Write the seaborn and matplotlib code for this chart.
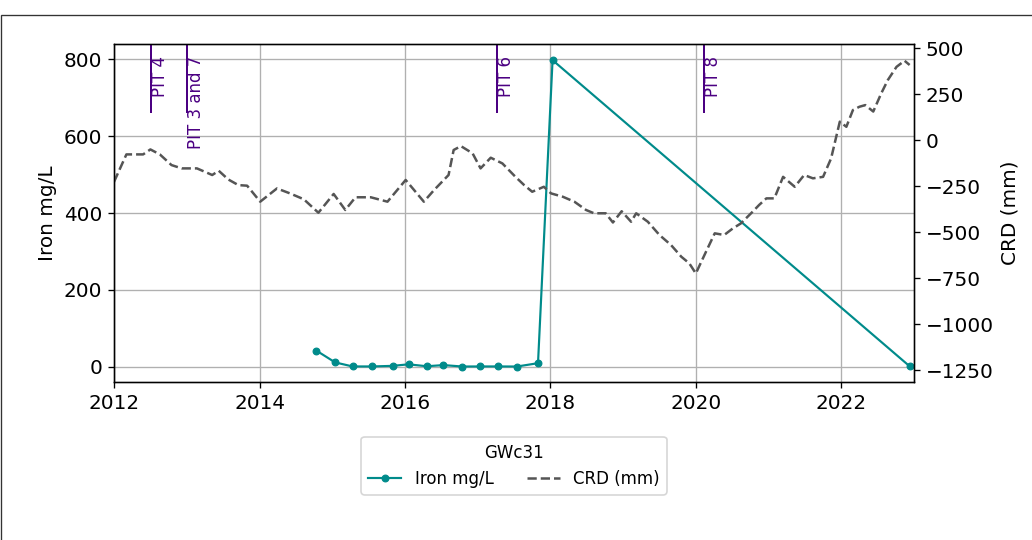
import pandas as pd
import matplotlib
matplotlib.use('Agg')
import matplotlib.pyplot as plt
import matplotlib.dates as mdates
from matplotlib.ticker import MultipleLocator
from matplotlib.patches import Rectangle
import seaborn as sns


# sample dates as decimal years
iron_years = [2014.78, 2015.04, 2015.28, 2015.55, 2015.83, 2016.05, 2016.30,
              2016.53, 2016.79, 2017.03, 2017.28, 2017.54, 2017.83, 2018.03,
              2022.94]
iron_values = [42, 11, 0.5, 0.5, 2, 6, 1, 4, 0.3, 0.5, 0.5, 0.3, 9, 798, 1]

crd_years = [2012.00, 2012.17, 2012.40, 2012.50, 2012.63, 2012.79, 2012.93,
             2013.14, 2013.35, 2013.44, 2013.57, 2013.71, 2013.83, 2014.01,
             2014.24, 2014.42, 2014.61, 2014.81, 2015.02, 2015.18, 2015.32,
             2015.53, 2015.76, 2016.01, 2016.26, 2016.40, 2016.60, 2016.67,
             2016.77, 2016.93, 2017.04, 2017.18, 2017.34, 2017.52, 2017.64,
             2017.75, 2017.91, 2018.01, 2018.17, 2018.33, 2018.49, 2018.60,
             2018.76, 2018.86, 2018.98, 2019.11, 2019.18, 2019.34, 2019.50,
             2019.66, 2019.80, 2019.91, 2020.00, 2020.14, 2020.26, 2020.39,
             2020.51, 2020.62, 2020.78, 2020.87, 2020.97, 2021.08, 2021.20,
             2021.36, 2021.49, 2021.61, 2021.75, 2021.86, 2021.98, 2022.07,
             2022.16, 2022.25, 2022.33, 2022.44, 2022.55, 2022.64, 2022.76,
             2022.87, 2022.94]
crd_values = [-227, -78, -78, -51, -78, -136, -154,
              -154, -190, -167, -214, -245, -248, -335,
              -263, -290, -322, -395, -293, -380, -311,
              -311, -335, -217, -335, -272, -190, -54,
              -33, -72, -154, -96, -127, -200, -245,
              -281, -254, -290, -308, -335, -380, -398,
              -398, -448, -387, -444, -398, -444, -516,
              -571, -634, -670, -725, -607, -507, -516,
              -480, -453, -390, -353, -317, -317, -200,
              -254, -190, -208, -200, -100, 100, 72,
              163, 181, 190, 155, 254, 326, 398,
              431, 408]

pit_years = [2012.51, 2013.01, 2017.26, 2020.11]
pit_labels = ['PIT 4', 'PIT 3 and 7', 'PIT 6', 'PIT 8']


def to_date(years):
    base = pd.Timestamp('2012-01-01')
    return [base + pd.Timedelta(days=(y - 2012) * 365.25) for y in years]


plt.rcParams['font.size'] = 12

iron = pd.DataFrame({'date': to_date(iron_years), 'iron': iron_values})
crd = pd.DataFrame({'date': to_date(crd_years), 'crd': crd_values})

fig = plt.figure(figsize=(8.6, 4.5), dpi=120)
ax1 = fig.add_axes([0.1105, 0.2926, 0.7752, 0.6259])
ax2 = ax1.twinx()

sns.lineplot(
    data=iron, x='date', y='iron', ax=ax1,
    color='darkcyan', marker='o', markersize=4, lw=1.3,
    markeredgecolor='darkcyan', legend=False
)
sns.lineplot(
    data=crd, x='date', y='crd', ax=ax2,
    color='#555555', linestyle='--', legend=False
)

for year, label in zip(pit_years, pit_labels):
    date = to_date([year])[0]
    ax1.axvline(date, ymin=0.8, ymax=1.0, color='indigo', lw=1.2)
    ax1.text(date, 0.965, label, rotation=90, color='indigo', fontsize=10,
             ha='left', va='top', transform=ax1.get_xaxis_transform())

ax1.set_xlim(pd.Timestamp('2012-01-01'), pd.Timestamp('2023-01-01'))
ax1.set_ylim(-40, 840)
ax2.set_ylim(-1315, 522)
ax1.yaxis.set_major_locator(MultipleLocator(200))
ax2.yaxis.set_major_locator(MultipleLocator(250))
ax1.xaxis.set_major_locator(mdates.YearLocator(2))
ax1.xaxis.set_major_formatter(mdates.DateFormatter('%Y'))
ax1.set_xlabel('')
ax1.set_ylabel('Iron mg/L')
ax2.set_ylabel('CRD (mm)')
ax1.grid(True)

handles = [ax1.lines[0], ax2.lines[0]]
ax1.legend(
    handles, ['Iron mg/L', 'CRD (mm)'], title='GWc31',
    loc='upper center', bbox_to_anchor=(0.5, -0.138), ncol=2,
    fontsize=10, title_fontsize=10
)

# figure edge as it appears in the original crop
fig.patches.append(Rectangle(
    (0.001, -0.1), 1.2, 1.0713, transform=fig.transFigure,
    fill=False, edgecolor='#333333', lw=0.8
))

fig.savefig('out.png', dpi=120)
